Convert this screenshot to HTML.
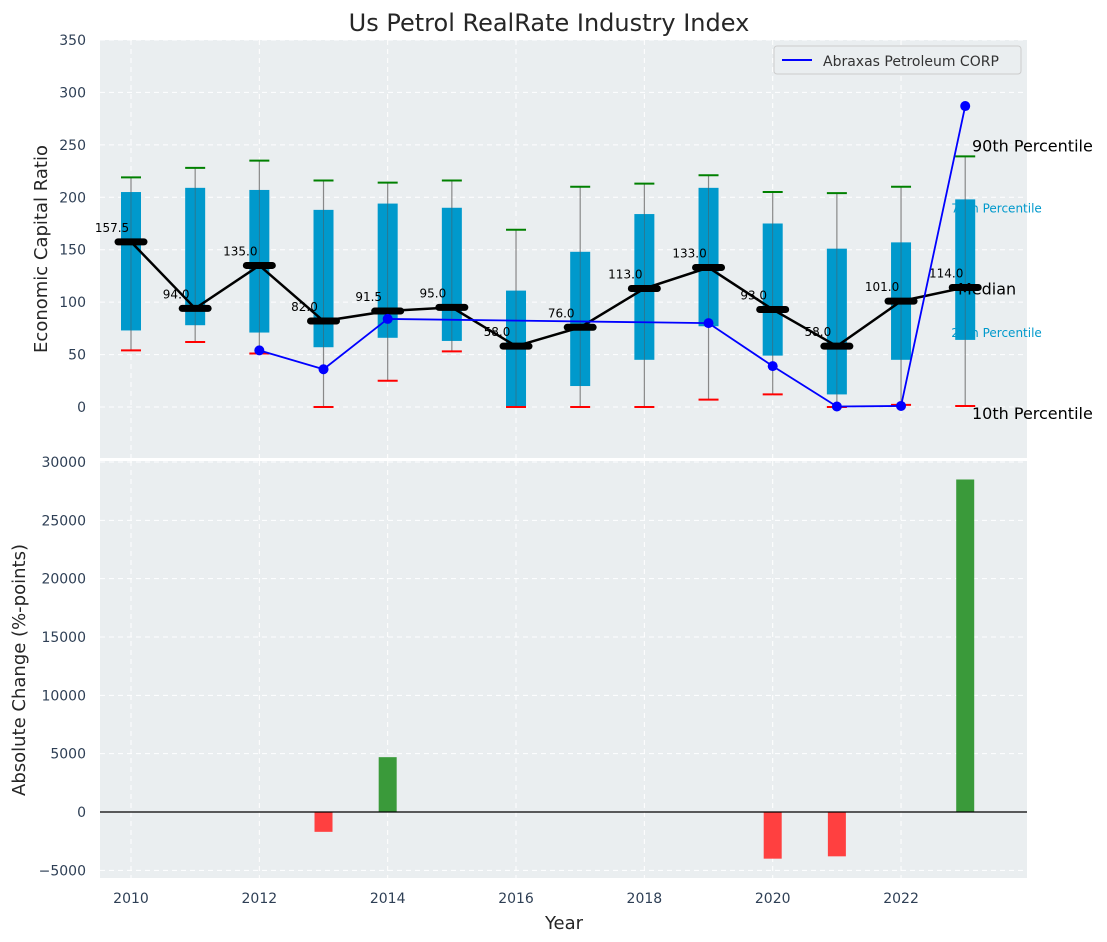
<!DOCTYPE html>
<html><head><meta charset="utf-8"><style>
body{margin:0;background:#fff}
svg{display:block;font-family:"DejaVu Sans","Liberation Sans",sans-serif}
</style></head><body>
<svg id="c" width="1107" height="942" xmlns="http://www.w3.org/2000/svg">
<text x="549" y="31" text-anchor="middle" font-size="24" fill="#262626">Us Petrol RealRate Industry Index</text>
<rect x="100" y="40" width="927" height="418" fill="#eaeef0"/>
<rect x="100" y="461" width="927" height="417" fill="#eaeef0"/>
<g id="gtop"></g><g id="gbot"></g>
<text transform="translate(47,249) rotate(-90)" text-anchor="middle" font-size="18" fill="#262626">Economic Capital Ratio</text>
<text transform="translate(25,670) rotate(-90)" text-anchor="middle" font-size="18" fill="#262626">Absolute Change (%-points)</text>
<text x="564" y="929" text-anchor="middle" font-size="18" fill="#262626">Year</text>
<g>
<rect x="774" y="46" width="247" height="28" rx="3" fill="#eaeef0" stroke="#ccc"/>
<line x1="782" y1="60" x2="812" y2="60" stroke="blue" stroke-width="2"/>
<text x="823" y="66" font-size="14" fill="#333">Abraxas Petroleum CORP</text>
</g>
</svg>
<script>
const years=[2010,2011,2012,2013,2014,2015,2016,2017,2018,2019,2020,2021,2022,2023];
const p10=[54,62,51,0,25,53,0,0,0,7,12,0,2,1];
const p25=[73,78,71,57,66,63,0,20,45,77,49,12,45,64];
const median=[157.5,94,135,82,91.5,95,58,76,113,133,93,58,101,114];
const p75=[205,209,207,188,194,190,111,148,184,209,175,151,157,198];
const p90=[219,228,235,216,214,216,169,210,213,221,205,204,210,239];
const compYears=[2012,2013,2014,2019,2020,2021,2022,2023];
const compVals=[54,36,84,80,39,0.5,1,287];
const chgYears=[2013,2014,2020,2021,2023];
const chgVals=[-1700,4700,-4000,-3800,28500];
const topTicks=[0,50,100,150,200,250,300,350];
const botTicks=[-5000,0,5000,10000,15000,20000,25000,30000];
const xTicks=[2010,2012,2014,2016,2018,2020,2022];
const NS='http://www.w3.org/2000/svg';
const X=v=>131+(v-2010)*64.17;
const Y1=v=>407-v*1.0486;
const Y2=v=>812-v*0.011667;
const TC='#2e3f55';
function mk(p,t,a){const e=document.createElementNS(NS,t);for(const k in a)e.setAttribute(k,a[k]);p.appendChild(e);return e;}
const gTop=document.getElementById('gtop'),gBot=document.getElementById('gbot');
xTicks.forEach(t=>{
 let g=mk(gTop,'line',{x1:X(t),x2:X(t),y1:40,y2:458,stroke:'#fff','stroke-dasharray':'5,4'});
 
 
 g=mk(gBot,'line',{x1:X(t),x2:X(t),y1:461,y2:878,stroke:'#fff','stroke-dasharray':'5,4'});
 
 
 const l=mk(gBot,'text',{x:X(t),y:903,'text-anchor':'middle','font-size':14,fill:TC});l.textContent=t;
 
 
});
topTicks.forEach(t=>{
 let g=mk(gTop,'line',{x1:100,x2:1027,y1:Y1(t),y2:Y1(t),stroke:'#fff','stroke-dasharray':'5,4'});
 
 
 const l=mk(gTop,'text',{x:86,y:Y1(t)+5,'text-anchor':'end','font-size':14,fill:TC});l.textContent=t;
 
 
});
botTicks.forEach(t=>{
 let g=mk(gBot,'line',{x1:100,x2:1027,y1:Y2(t),y2:Y2(t),stroke:'#fff','stroke-dasharray':'5,4'});
 
 
 const l=mk(gBot,'text',{x:86,y:Y2(t)+5,'text-anchor':'end','font-size':14,fill:TC});l.textContent=(t<0?'\u2212'+(-t):t);
 
 
});
const last=years.length-1;
let t=mk(gTop,'text',{x:X(years[last])-14,y:Y1(p75[last])+13,'font-size':12,fill:'#0099cc'});t.textContent='75th Percentile';


t=mk(gTop,'text',{x:X(years[last])-14,y:Y1(p25[last])-3,'font-size':12,fill:'#0099cc'});t.textContent='25th Percentile';


years.forEach((y,i)=>{
 const x=X(y);
 let e=mk(gTop,'line',{x1:x,x2:x,y1:Y1(p90[i]),y2:Y1(p10[i]),stroke:'#888','stroke-width':1.2});
 
 
 e=mk(gTop,'rect',{x:x-10,y:Y1(p75[i]),width:20,height:Y1(p25[i])-Y1(p75[i]),fill:'#0099cc'});
 
 
 e=mk(gTop,'line',{x1:x,x2:x,y1:Y1(p75[i]),y2:Y1(p25[i]),stroke:'#555','stroke-width':0.8,opacity:0.6});
 
 
 e=mk(gTop,'line',{x1:x-10,x2:x+10,y1:Y1(p90[i]),y2:Y1(p90[i]),stroke:'green','stroke-width':2});
 
 
 e=mk(gTop,'line',{x1:x-10,x2:x+10,y1:Y1(p10[i]),y2:Y1(p10[i]),stroke:'red','stroke-width':2});
 
 
});
t=mk(gTop,'text',{x:972,y:Y1(p90[last])-5,'font-size':16,fill:'#000'});t.textContent='90th Percentile';


t=mk(gTop,'text',{x:958,y:Y1(median[last])+7,'font-size':16,fill:'#000'});t.textContent='Median';


t=mk(gTop,'text',{x:972,y:Y1(p10[last])+13,'font-size':16,fill:'#000'});t.textContent='10th Percentile';


let e=mk(gTop,'polyline',{points:years.map((y,i)=>X(y)+','+Y1(median[i])).join(' '),fill:'none',stroke:'#000','stroke-width':2.5});


years.forEach((y,i)=>{
 const x=X(y);
 let m=mk(gTop,'line',{x1:x-13,x2:x+13,y1:Y1(median[i]),y2:Y1(median[i]),stroke:'#000','stroke-width':7,'stroke-linecap':'round'});
 
 
 const l=mk(gTop,'text',{x:x-19,y:Y1(median[i])-10,'text-anchor':'middle','font-size':12,fill:'#000'});l.textContent=median[i].toFixed(1);
 
 
});
e=mk(gTop,'polyline',{points:compYears.map((y,i)=>X(y)+','+Y1(compVals[i])).join(' '),fill:'none',stroke:'blue','stroke-width':1.8});


compYears.forEach((y,i)=>{
 const c=mk(gTop,'circle',{cx:X(y),cy:Y1(compVals[i]),r:5,fill:'blue'});
 
 
});
chgYears.forEach((y,i)=>{
 const v=chgVals[i];
 const b=mk(gBot,'rect',{x:X(y)-9,y:Math.min(Y2(v),Y2(0)),width:18,height:Math.abs(Y2(v)-Y2(0)),fill:v>=0?'#3a9a3a':'#ff4040'});
 
 
});
e=mk(gBot,'line',{x1:100,x2:1027,y1:Y2(0),y2:Y2(0),stroke:'#000','stroke-width':1.2});


</script>
</body></html>
